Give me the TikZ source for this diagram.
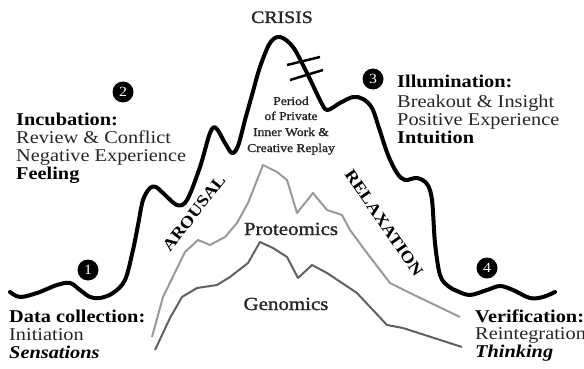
\documentclass[tikz,border=0pt]{standalone}
\usepackage{fontspec}
\setmainfont[FakeStretch=1.13]{Liberation Serif}
\newfontfamily\semib[FakeStretch=1.13,FakeBold=1.4]{Liberation Serif}
\begin{document}
\begin{tikzpicture}[x=1pt,y=-1pt,
  ink/.style={text=black!85},
  txt/.style={ink,anchor=base west,inner sep=0pt,font=\fontsize{18}{20}\selectfont},
  hd/.style={txt,text=black,font=\fontsize{18}{20}\selectfont\bfseries},
  em/.style={txt,text=black,font=\fontsize{18}{20}\selectfont\bfseries\itshape},
  stage/.style={circle,fill=black,text=white,minimum size=21pt,inner sep=0pt,
    font=\fontsize{14}{14}\selectfont},
  mood/.style={inner sep=0pt,font=\fontsize{16.5}{16}\selectfont\bfseries},
  inner/.style={ink,inner sep=0pt,anchor=base,font=\fontsize{12}{15}\selectfont\semib},
  omics/.style={ink,inner sep=0pt,anchor=base,font=\fontsize{18.5}{20}\selectfont\semib},
  path1/.style={line width=4pt,line cap=round,line join=round},
  path2/.style={line width=2pt,line join=round}]
\path[use as bounding box] (0,0) rectangle (584,369);

% the journey curve
\draw[path1] plot[smooth,tension=0.55] coordinates {
  (10,292) (20,297) (37,293) (57,285) (70,283) (80,290) (90,297) (100,298)
  (113,293) (125,280) (133,250) (138,225) (143,200) (150,188) (156,187)
  (163,193) (177,205) (187,200) (200,167) (210,133) (216,128) (225,143)
  (232,153) (238,146) (245,120) (252,95) (260,67) (270,43) (280,37)
  (293,47) (307,73) (320,100) (327,110) (340,103) (353,97) (363,99)
  (372,108) (379,128) (388,155) (397,173) (405,180) (417,178) (427,184)
  (432,200) (435,243) (440,275) (448,286) (457,291) (470,295) (487,290)
  (500,286) (513,290) (530,298) (543,297) (555,292)};

% break marks near the top
\draw[line width=2.5pt] (287,65) -- (320,57);
\draw[line width=2.5pt] (290,80) -- (323,70);

% proteomics trace
\draw[path2,black!40] plot coordinates {
  (152,337) (163,297) (185,252) (198,240) (210,245) (225,237) (237,223)
  (248,203) (263,165) (277,172) (287,180) (297,213) (313,193) (327,210)
  (342,215) (350,230) (367,253) (390,283) (410,293) (460,317)};

% genomics trace
\draw[path2,black!62] plot coordinates {
  (155,350) (170,318) (182,297) (197,288) (217,285) (230,277) (248,263)
  (260,242) (273,248) (287,257) (298,278) (312,265) (327,273) (357,293)
  (387,325) (403,328) (462,347)};

% stage markers
\node[stage] (s1) at (88,270) {1};
\node[stage] (s2) at (123,92) {2};
\node[stage] (s3) at (373,79) {3};
\node[stage] (s4) at (487,268) {4};

% peak labels
\node[ink,inner sep=0pt,anchor=base,font=\fontsize{17.5}{20}\selectfont\semib] (crisis) at (282,23) {CRISIS};
\node[inner] (pw1) at (291,105) {Period};
\node[inner] (pw2) at (291,120) {of Private};
\node[inner] (pw3) at (291,136) {Inner Work \&};
\node[inner] (pw4) at (291,152) {Creative Replay};

\node[mood,rotate=52] (arousal) at (194,213) {AROUSAL};
\node[mood,rotate=-55.5] (relax) at (384,223) {RELAXATION};

\node[omics] (prot) at (291,235) {Proteomics};
\node[omics] (gen) at (286,310) {Genomics};

% stage descriptions
\node[hd]  (i1) at (16,125) {Incubation:};
\node[txt] (i2) at (16,143) {Review \& Conflict};
\node[txt] (i3) at (16,161) {Negative Experience};
\node[hd]  (i4) at (16,179) {Feeling};

\node[hd]  (d1) at (9,322) {Data collection:};
\node[txt] (d2) at (9,340) {Initiation};
\node[em]  (d3) at (9,358) {Sensations};

\node[hd]  (l1) at (397,88) {Illumination:};
\node[txt] (l2) at (397,107) {Breakout \& Insight};
\node[txt] (l3) at (397,125) {Positive Experience};
\node[hd]  (l4) at (397,143) {Intuition};

\node[hd]  (v1) at (475,322) {Verification:};
\node[txt] (v2) at (475,339) {Reintegration};
\node[em]  (v3) at (475,357) {Thinking};
\end{tikzpicture}
\end{document}
